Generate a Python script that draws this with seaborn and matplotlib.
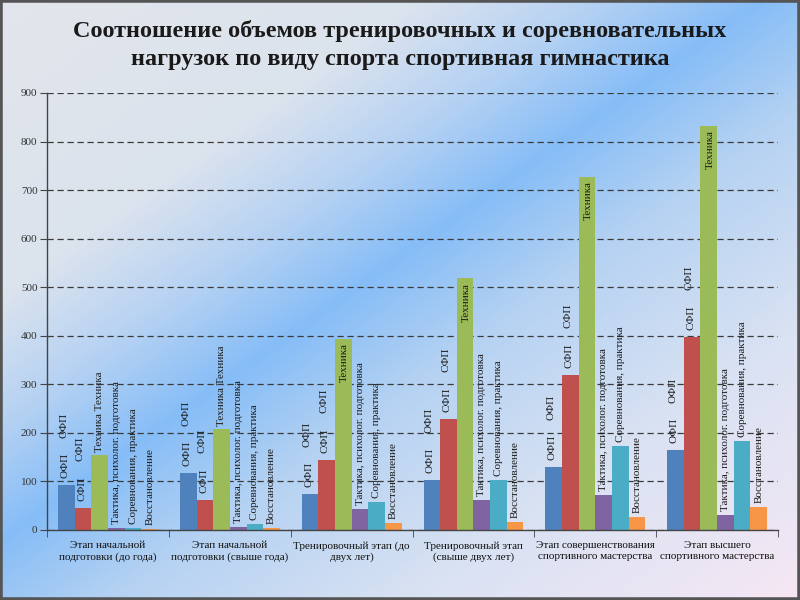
import numpy as np
import pandas as pd
import matplotlib
matplotlib.use("Agg")
import matplotlib.pyplot as plt
import seaborn as sns
from matplotlib.colors import LinearSegmentedColormap
from matplotlib.patches import Rectangle

# ---------------- data ----------------
stages = [
    "Этап начальной\nподготовки (до года)",
    "Этап начальной\nподготовки (свыше года)",
    "Тренировочный этап (до\nдвух лет)",
    "Тренировочный этап\n(свыше двух лет)",
    "Этап совершенствования\nспортивного мастерства",
    "Этап высшего\nспортивного мастерства",
]
series = ["ОФП", "СФП", "Техника", "Тактика, психолог. подготовка",
          "Соревнования, практика", "Восстановление"]
ofp = [93, 117, 74, 103, 130, 165]
sfp = [45, 62, 144, 228, 319, 397]
tech = [154, 208, 393, 518, 728, 833]
tact = [4, 6, 43, 62, 72, 31]
comp = [4, 12, 58, 103, 173, 183]
recov = [2, 4, 14, 17, 27, 47]
yticks = [0, 100, 200, 300, 400, 500, 600, 700, 800, 900]
colors = ["#4F81BD", "#C0504D", "#9BBB59", "#8064A2", "#4BACC6", "#F79646"]
title = ("Соотношение объемов тренировочных и соревновательных\n"
         "нагрузок по виду спорта спортивная гимнастика")

values = [ofp, sfp, tech, tact, comp, recov]
rows = []
for s, vals in zip(series, values):
    for st, v in zip(stages, vals):
        rows.append({"stage": st, "type": s, "hours": v})
df = pd.DataFrame(rows)

# ---------------- figure ----------------
fig = plt.figure(figsize=(8, 6), dpi=100)

# background gradient
bg = fig.add_axes([0, 0, 1, 1], zorder=-10)
H, W = 600, 800
yy, xx = np.mgrid[0:H, 0:W]
t = (xx / 760.0 + yy / 540.0) / 2.2
cmap = LinearSegmentedColormap.from_list(
    "bg", [(0.0, "#e3e6eb"), (0.25, "#dbe3ee"), (0.36, "#b4d1f3"),
           (0.455, "#86bdf7"), (0.57, "#b5d2f2"), (0.75, "#d9e2f3"),
           (1.0, "#f8e8f4")])
bg.imshow(t, cmap=cmap, aspect="auto", extent=[0, 1, 0, 1], origin="upper",
          vmin=0, vmax=1)
bg.set_axis_off()

ax = fig.add_axes([0.059, 0.1167, 0.9135, 0.7283])
ax.patch.set_alpha(0)

sns.barplot(data=df, x="stage", y="hours", hue="type", hue_order=series,
            order=stages, palette=colors, width=0.82, gap=0, saturation=1,
            legend=False, ax=ax, linewidth=0, errorbar=None)

ax.set_ylim(0, 900)
ax.set_xlim(-0.5, len(stages) - 0.5)
ax.set_yticks(yticks)
ax.set_yticklabels([str(v) for v in yticks], fontfamily="Liberation Serif",
                   fontsize=8, color="#333333")
ax.set_xticks(range(len(stages)))
ax.set_xticklabels(stages, fontfamily="Liberation Serif", fontsize=8,
                   color="#111111", linespacing=1.25)
ax.tick_params(axis="x", length=0, pad=8)
ax.set_xticks(np.arange(-0.5, len(stages), 1.0), minor=True)
ax.tick_params(axis="x", which="minor", length=5, color="#444444")
ax.tick_params(axis="y", length=5, color="#444444", pad=2)
ax.set_xlabel("")
ax.set_ylabel("")
ax.yaxis.grid(True, linestyle=(0, (5, 3)), color="#3c3c3c", linewidth=0.9)
ax.set_axisbelow(True)
for sp in ["top", "right"]:
    ax.spines[sp].set_visible(False)
for sp in ["left", "bottom"]:
    ax.spines[sp].set_color("#444444")
    ax.spines[sp].set_linewidth(1.0)

lab_kw = dict(rotation=90, ha="center", fontfamily="Liberation Serif",
              fontsize=8, color="#1a1a1a", textcoords="offset points",
              annotation_clip=False)

for si, cont in enumerate(ax.containers):
    name = series[si]
    for gi, bar in enumerate(cont):
        xc = bar.get_x() + bar.get_width() / 2
        top = bar.get_height()
        if name in ("ОФП", "СФП"):
            ax.annotate(name, (xc, top), xytext=(-1, 5), va="bottom", **lab_kw)
            ax.annotate(name, (xc, top), xytext=(-2, 34), va="bottom",
                        **lab_kw)
        elif name == "Техника":
            if gi < 2:
                ax.annotate("Техника Техника", (xc, top), xytext=(0, 2),
                            va="bottom", **lab_kw)
            else:
                ax.annotate(name, (xc, top), xytext=(1, -3), va="top",
                            **lab_kw)
        else:
            ax.annotate(name, (xc, top), xytext=(0, 3), va="bottom",
                        **lab_kw)

fig.text(0.5, 0.925, title, ha="center", va="center",
         fontfamily="Liberation Serif", fontweight="bold", fontsize=17.5,
         color="#1a1a1a", linespacing=1.5)

# dark frame around slide
fig.patches.append(Rectangle((0, 0), 1, 1, transform=fig.transFigure,
                             fill=False, edgecolor="#555555", linewidth=4))

fig.savefig("out.png", dpi=100)
